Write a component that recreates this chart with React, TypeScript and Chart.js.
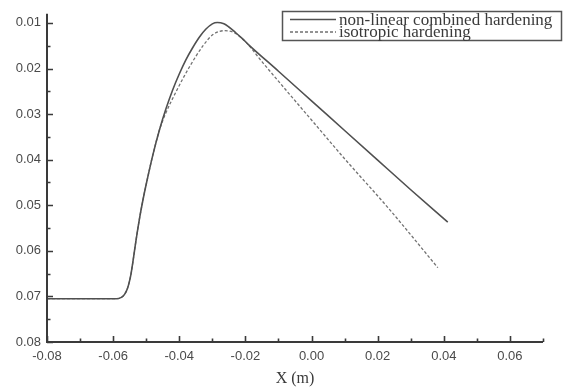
import React, { useEffect, useRef } from "react";
import { Chart, registerables } from "chart.js";

Chart.register(...registerables);

const seriesLabels = ["non-linear combined hardening", "isotropic hardening"];

const combinedX = [-0.08, -0.07, -0.062, -0.059, -0.0575, -0.0565, -0.0557, -0.0551, -0.0546, -0.0541, -0.0535, -0.053, -0.052, -0.051, -0.05, -0.048, -0.046, -0.044, -0.042, -0.04, -0.038, -0.036, -0.034, -0.032, -0.03, -0.0285, -0.0265, -0.025, -0.023, -0.021, -0.019, -0.01, 0.0, 0.01, 0.02, 0.03, 0.0412];
const combinedY = [0.0705, 0.0705, 0.0705, 0.0705, 0.0702, 0.0695, 0.0683, 0.0668, 0.0651, 0.0628, 0.0598, 0.0573, 0.0528, 0.0489, 0.0454, 0.039, 0.0335, 0.0288, 0.0247, 0.0212, 0.0181, 0.0155, 0.0132, 0.0114, 0.0102, 0.0099, 0.0102, 0.0109, 0.0121, 0.0134, 0.0148, 0.0206, 0.0271, 0.0336, 0.0401, 0.0466, 0.0537];

const isotropicX = [-0.08, -0.07, -0.062, -0.059, -0.0575, -0.0565, -0.0557, -0.0551, -0.0546, -0.0541, -0.0535, -0.053, -0.052, -0.051, -0.05, -0.048, -0.046, -0.0442, -0.0409, -0.0372, -0.0328, -0.0297, -0.0262, -0.0235, -0.02, -0.015, -0.008, 0.0, 0.01, 0.0232, 0.0382];
const isotropicY = [0.0705, 0.0705, 0.0705, 0.0705, 0.0702, 0.0695, 0.0683, 0.0668, 0.0651, 0.0628, 0.0598, 0.0573, 0.0528, 0.0489, 0.0454, 0.039, 0.0335, 0.03, 0.025, 0.02, 0.015, 0.0125, 0.0117, 0.0121, 0.0141, 0.0185, 0.0245, 0.0313, 0.0398, 0.0506, 0.0637];

const xMajorTicks = [-0.08, -0.06, -0.04, -0.02, 0.0, 0.02, 0.04, 0.06];
const xMinorTicks = [-0.07, -0.05, -0.03, -0.01, 0.01, 0.03, 0.05, 0.07];
const yMajorTicks = [0.01, 0.02, 0.03, 0.04, 0.05, 0.06, 0.07, 0.08];
const yMinorTicks = [0.015, 0.025, 0.035, 0.045, 0.055, 0.065, 0.075];
const xAxisTitle = "X (m)";

const axisPlugin = {
  id: "axisPlugin",
  afterDatasetsDraw(chart: any) {
    const { ctx, chartArea, scales } = chart;
    const xs = scales.x;
    const ys = scales.y;
    ctx.save();
    ctx.strokeStyle = "#3a3a3a";
    ctx.lineWidth = 2;
    ctx.beginPath();
    ctx.moveTo(chartArea.left, chartArea.top);
    ctx.lineTo(chartArea.left, chartArea.bottom);
    ctx.lineTo(chartArea.right, chartArea.bottom);
    ctx.stroke();
    ctx.lineWidth = 1.6;
    ctx.beginPath();
    for (const v of xMajorTicks) {
      const px = Math.round(xs.getPixelForValue(v)) + 0.5;
      ctx.moveTo(px, chartArea.bottom);
      ctx.lineTo(px, chartArea.bottom - 6);
    }
    for (const v of xMinorTicks) {
      const px = Math.round(xs.getPixelForValue(v)) + 0.5;
      ctx.moveTo(px, chartArea.bottom);
      ctx.lineTo(px, chartArea.bottom - 3.5);
    }
    for (const v of yMajorTicks) {
      const py = Math.round(ys.getPixelForValue(v)) + 0.5;
      ctx.moveTo(chartArea.left, py);
      ctx.lineTo(chartArea.left + 6, py);
    }
    for (const v of yMinorTicks) {
      const py = Math.round(ys.getPixelForValue(v)) + 0.5;
      ctx.moveTo(chartArea.left, py);
      ctx.lineTo(chartArea.left + 3.5, py);
    }
    ctx.stroke();

    // legend box
    const bx = 282.5, by = 11.5, bw = 279, bh = 29;
    ctx.fillStyle = "#ffffff";
    ctx.fillRect(bx, by, bw, bh);
    ctx.strokeStyle = "#555555";
    ctx.lineWidth = 1.5;
    ctx.strokeRect(bx, by, bw, bh);
    const rows = [19.5, 32];
    const styles = [
      { dash: [], color: "#505050", width: 1.5 },
      { dash: [3, 2], color: "#707070", width: 1.3 },
    ];
    ctx.font = "17px 'Liberation Serif', 'Times New Roman', serif";
    ctx.textBaseline = "middle";
    ctx.textAlign = "left";
    seriesLabels.forEach((label, i) => {
      const s = styles[i];
      ctx.strokeStyle = s.color;
      ctx.lineWidth = s.width;
      ctx.setLineDash(s.dash);
      ctx.beginPath();
      ctx.moveTo(290, rows[i]);
      ctx.lineTo(336, rows[i]);
      ctx.stroke();
      ctx.setLineDash([]);
      ctx.fillStyle = "#3a3a3a";
      ctx.fillText(label, 339, rows[i] + 1);
    });
    ctx.restore();
  },
};

export default function App() {
  const canvasRef = useRef<HTMLCanvasElement | null>(null);

  useEffect(() => {
    if (!canvasRef.current) return;
    const chart = new Chart(canvasRef.current, {
      type: "line",
      data: {
        datasets: [
          {
            label: seriesLabels[0],
            data: combinedX.map((x, i) => ({ x, y: combinedY[i] })),
            borderColor: "#505050",
            borderWidth: 1.6,
            pointRadius: 0,
            cubicInterpolationMode: "monotone",
            fill: false,
          },
          {
            label: seriesLabels[1],
            data: isotropicX.map((x, i) => ({ x, y: isotropicY[i] })),
            borderColor: "#727272",
            borderWidth: 1.3,
            borderDash: [3, 2],
            pointRadius: 0,
            cubicInterpolationMode: "monotone",
            fill: false,
          },
        ],
      },
      options: {
        responsive: false,
        animation: false,
        maintainAspectRatio: false,
        layout: { padding: { left: 0, top: 10, right: 21, bottom: 0 } },
        plugins: {
          legend: { display: false },
          tooltip: { enabled: false },
        },
        scales: {
          x: {
            type: "linear",
            min: -0.08,
            max: 0.07,
            afterBuildTicks: (scale: any) => {
              scale.ticks = xMajorTicks.map((v) => ({ value: v }));
            },
            afterFit: (scale: any) => {
              scale.height = 50;
            },
            grid: { display: false, drawTicks: false },
            border: { display: false },
            ticks: {
              autoSkip: false,
              maxRotation: 0,
              padding: 7,
              color: "#4a4a4a",
              font: { family: "'Liberation Sans', Arial, sans-serif", size: 13 },
              callback: (v: any) => Number(v).toFixed(2),
            },
            title: {
              display: true,
              text: xAxisTitle,
              color: "#3a3a3a",
              font: { family: "'Liberation Serif', 'Times New Roman', serif", size: 16 },
              padding: { top: 0, bottom: 4 },
            },
          },
          y: {
            type: "linear",
            reverse: true,
            min: 0.008,
            max: 0.08,
            afterBuildTicks: (scale: any) => {
              scale.ticks = yMajorTicks.map((v) => ({ value: v }));
            },
            afterFit: (scale: any) => {
              scale.width = 47;
            },
            grid: { display: false, drawTicks: false },
            border: { display: false },
            ticks: {
              autoSkip: false,
              padding: 6,
              color: "#4a4a4a",
              font: { family: "'Liberation Sans', Arial, sans-serif", size: 13 },
              callback: (v: any) => Number(v).toFixed(2),
            },
          },
        },
      },
      plugins: [axisPlugin],
    } as any);
    return () => chart.destroy();
  }, []);

  return (
    <div style={{ position: "fixed", left: 0, top: 0, width: 564, height: 392, background: "#ffffff" }}>
      <canvas ref={canvasRef} width={564} height={392} style={{ width: 564, height: 392, display: "block" }} />
    </div>
  );
}
